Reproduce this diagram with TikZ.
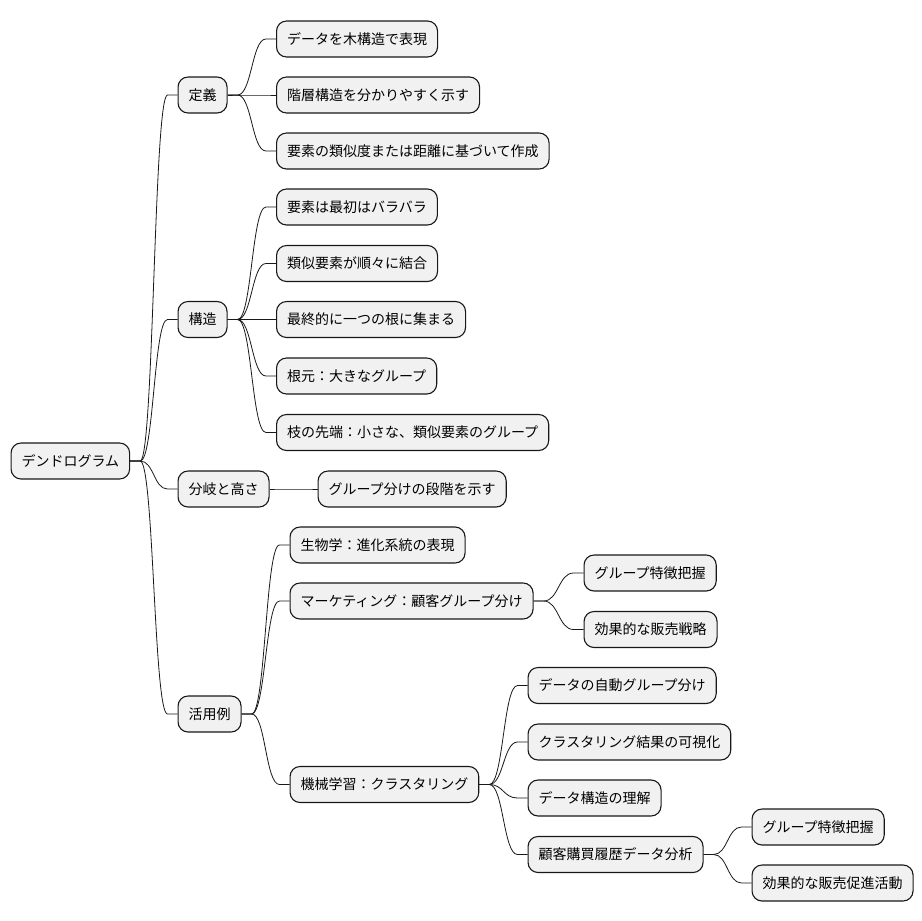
\documentclass[tikz,border=0pt]{standalone}
\usepackage{fontspec}
\setmainfont{Noto Sans CJK JP}
\usetikzlibrary{calc}
\definecolor{boxfill}{HTML}{F1F1F1}
\definecolor{boxline}{HTML}{181818}
\begin{document}
\begin{tikzpicture}[x=1pt, y=-1pt]
\useasboundingbox (0,0) rectangle (922,921);

\begin{scope}[every node/.style={draw=boxline, fill=boxfill, line width=1.1pt, rounded corners=10pt, minimum height=36pt, inner xsep=10.5pt, anchor=west, font=\fontsize{14}{16}\selectfont}]
\node (root) at (10.5,461) {デンドログラム};

\node (def) at (177.5,95) {定義};
\node (def1) at (276,39) {データを木構造で表現};
\node (def2) at (276,95) {階層構造を分かりやすく示す};
\node (def3) at (276,151) {要素の類似度または距離に基づいて作成};

\node (str) at (177.5,319.5) {構造};
\node (str1) at (276,207) {要素は最初はバラバラ};
\node (str2) at (276,263.5) {類似要素が順々に結合};
\node (str3) at (276,319.5) {最終的に一つの根に集まる};
\node (str4) at (276,376) {根元：大きなグループ};
\node (str5) at (276,432.5) {枝の先端：小さな、類似要素のグループ};

\node (brn) at (177.5,489) {分岐と高さ};
\node (brn1) at (317.5,489) {グループ分けの段階を示す};

\node (use) at (177.5,714) {活用例};
\node (use1) at (289.5,545) {生物学：進化系統の表現};
\node (use2) at (289.5,601) {マーケティング：顧客グループ分け};
\node (use2a) at (583.5,573) {グループ特徴把握};
\node (use2b) at (583.5,629.5) {効果的な販売戦略};
\node (use3) at (289.5,784.5) {機械学習：クラスタリング};
\node (use3a) at (527.5,685.5) {データの自動グループ分け};
\node (use3b) at (527.5,742) {クラスタリング結果の可視化};
\node (use3c) at (527.5,798) {データ構造の理解};
\node (use3d) at (527.5,854.5) {顧客購買履歴データ分析};
\node (use3da) at (751.5,827) {グループ特徴把握};
\node (use3db) at (751.5,883) {効果的な販売促進活動};
\end{scope}

% branches
\foreach \a/\b in {root/def, root/str, root/brn, root/use,
  def/def1, def/def2, def/def3,
  str/str1, str/str2, str/str3, str/str4, str/str5,
  brn/brn1,
  use/use1, use/use2, use/use3,
  use2/use2a, use2/use2b,
  use3/use3a, use3/use3b, use3/use3c, use3/use3d,
  use3d/use3da, use3d/use3db}
{
  \path (\a.east) ++(10,0) coordinate (s)
        (\b.west) ++(-10,0) coordinate (e)
        ($(s)!.5!(e)$) coordinate (m);
  \draw[boxline, line width=0.8pt] (\a.east) -- (s) .. controls (m |- s) and (m |- e) .. (e) -- (\b.west);
}

\end{tikzpicture}
\end{document}
